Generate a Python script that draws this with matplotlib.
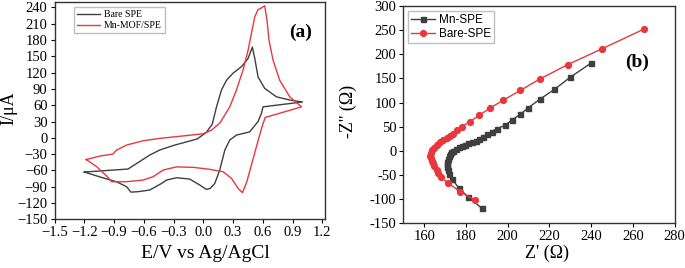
import matplotlib
matplotlib.use('Agg')
import matplotlib.pyplot as plt
import numpy as np

### CV data, panel (a): forward scan from -1.2 V, then reverse scan back ###
e_bare = [-1.20, -0.76, -0.67, -0.54, -0.44, -0.30, -0.20, -0.06, 0.03, 0.09, 0.133, 0.183, 0.234, 0.30, 0.385,
          0.451, 0.495, 0.519, 0.552, 0.619, 0.737, 0.871, 1.00,
          0.602, 0.586, 0.552, 0.468, 0.334, 0.267, 0.217, 0.166, 0.116, 0.07, 0.032, -0.035, -0.136, -0.27,
          -0.37, -0.421, -0.539, -0.65, -0.73, -0.773, -0.874, -1.042, -1.20]
i_bare = [-63, -57.5, -47, -31.7, -22.5, -14, -9, -2, 10, 25, 57, 88, 106, 119, 131,
          146, 167, 146, 112, 91, 75.5, 69.5, 66,
          57, 45, 30, 11, 5, -4, -22.5, -59, -84, -93, -95, -87, -76, -73.5,
          -77.7, -84, -96, -99, -100, -90, -81, -72, -63]

e_mof = [-1.18, -1.04, -0.914, -0.874, -0.773, -0.606, -0.438, -0.20, 0.0, 0.083, 0.17, 0.267, 0.334, 0.401,
         0.451, 0.485, 0.519, 0.552, 0.585, 0.619, 0.642, 0.662, 0.703, 0.770, 0.871, 0.99,
         0.625, 0.60, 0.56, 0.50, 0.44, 0.395, 0.35, 0.284, 0.199, 0.065, -0.103, -0.27, -0.405, -0.505,
         -0.606, -0.773, -0.924, -0.974, -1.075, -1.18]
i_mof = [-40, -33.5, -30, -22.5, -13.3, -5.4, -1, 3.5, 7.5, 14, 28, 57, 88, 125,
         161, 192, 223, 236, 239, 243, 217, 180, 143, 106, 75.5, 57,
         37.5, 25, 0, -40, -80, -101, -93, -74.6, -62.4, -58, -54.3, -53.5, -59.3, -71.6,
         -77.7, -80.8, -80.8, -70.3, -53.2, -40]

### EIS data, panel (b) ###
zre_mn = [240.1, 230.0, 222.4, 215.3, 210.0, 206.0, 202.0, 198.8, 194.8, 192.4, 190.3, 188.4, 186.5, 184.7,
          182.8, 181.2, 179.6, 178.0, 176.7, 175.2, 174.0, 173.0, 172.4, 171.7, 171.2, 171.1, 170.9, 170.9,
          171.2, 172.0, 173.2, 176.5, 180.9, 187.6]
zim_mn = [181.9, 152.3, 127.0, 106.4, 89.3, 75.4, 63.8, 52.8, 46.0, 39.9, 34.4, 29.6, 25.5, 21.3,
          17.9, 15.2, 12.4, 9.7, 6.9, 3.5, 0.1, -3.4, -6.8, -11.6, -17.1, -22.6, -28.1, -34.2,
          -39.7, -48.0, -58.2, -76.1, -95.3, -118.6]

zre_bare = [265.3, 245.0, 228.8, 215.6, 206.0, 197.7, 191.5, 186.3, 182.0, 178.0, 175.9, 173.9, 172.4, 170.8,
            169.1, 167.5, 166.0, 164.7, 163.7, 163.1, 162.7, 163.1, 163.6, 164.0, 164.8, 166.0, 166.8,
            167.9, 171.5, 177.2, 184.4]
zim_bare = [251.9, 210.7, 178.4, 149.0, 124.9, 104.3, 88.3, 73.5, 60.5, 50.2, 42.6, 35.8, 30.9, 26.1,
            22.0, 17.3, 11.7, 6.2, 0.8, -4.7, -10.3, -15.6, -21.2, -25.9, -32.1, -39.1, -46.5,
            -54.7, -66.5, -84.4, -102.1]

serif = 'Liberation Serif'
dark = '#3f3f3f'
red = '#e8383d'

fig = plt.figure(figsize=(6.85, 2.68), dpi=100)
ax1 = fig.add_axes([0.0796, 0.1817, 0.3953, 0.8108])
ax2 = fig.add_axes([0.5888, 0.1668, 0.3959, 0.8112])

### Panel (a) ###
ax1.plot(e_bare, i_bare, color=dark, lw=1.0, label='Bare SPE')
ax1.plot(e_mof, i_mof, color=red, lw=1.0, label='Mn-MOF/SPE')
ax1.set_xlim(-1.5, 1.23)
ax1.set_ylim(-150, 250)
ax1.set_xticks(np.arange(-1.5, 1.21, 0.3))
ax1.set_xticklabels(['\u2212%.1f' % abs(v) if v < -0.01 else '%.1f' % abs(v) for v in np.arange(-1.5, 1.21, 0.3)])
ax1.set_yticks(np.arange(-150, 241, 30))
ax1.set_yticklabels(['\u2212%d' % abs(v) if v < 0 else '%d' % v for v in np.arange(-150, 241, 30)])
ax1.set_xlabel('E/V vs Ag/AgCl', fontsize=14, family=serif)
ax1.set_ylabel('I/\u03bcA', fontsize=13, family=serif)
ax1.xaxis.set_label_coords(0.556, -0.12)
ax1.yaxis.set_label_coords(-0.137, 0.51)
ax1.text(0.91, 0.862, '(a)', transform=ax1.transAxes, fontsize=14, fontweight='bold',
         family=serif, ha='center', va='center')
leg1 = ax1.legend(loc='upper left', bbox_to_anchor=(0.072, 0.977), prop={'family': serif, 'size': 7},
                  fancybox=False, edgecolor='#b0b0b0', handlelength=2.4, borderpad=0.3,
                  labelspacing=0.25, handletextpad=0.4, borderaxespad=0)

### Panel (b) ###
ax2.plot(zre_mn, zim_mn, color=dark, lw=1.0, marker='s', ms=3.6, label='Mn-SPE')
ax2.plot(zre_bare, zim_bare, color=red, lw=1.0, marker='o', ms=4.2, label='Bare-SPE')
ax2.set_xlim(150, 280)
ax2.set_ylim(-150, 300)
ax2.set_xticks(np.arange(160, 281, 20))
ax2.set_yticks(np.arange(-150, 301, 50))
ax2.set_yticklabels(['-%d' % abs(v) if v < 0 else '%d' % v for v in np.arange(-150, 301, 50)])
ax2.set_xlabel("Z' (\u03a9)", fontsize=13, family=serif)
ax2.set_ylabel("-Z'' (\u03a9)", fontsize=13, family=serif)
ax2.xaxis.set_label_coords(0.53, -0.1)
ax2.yaxis.set_label_coords(-0.172, 0.516)
ax2.text(0.862, 0.742, '(b)', transform=ax2.transAxes, fontsize=14, fontweight='bold',
         family=serif, ha='center', va='center')
leg2 = ax2.legend(loc='upper left', bbox_to_anchor=(0.017, 0.977), prop={'family': 'Liberation Sans', 'size': 8.5},
                  fancybox=False, edgecolor='#b0b0b0', handlelength=2.0, borderpad=0.25,
                  labelspacing=0.2, handletextpad=0.4, borderaxespad=0)

for ax in (ax1, ax2):
    for sp in ax.spines.values():
        sp.set_linewidth(1.0)
        sp.set_color('#333333')
    ax.tick_params(direction='out', length=3, width=0.8, labelsize=10.5, top=False, right=False, pad=2)
    for lab in ax.get_xticklabels() + ax.get_yticklabels():
        lab.set_family(serif)

plt.savefig('out.png', dpi=100)
